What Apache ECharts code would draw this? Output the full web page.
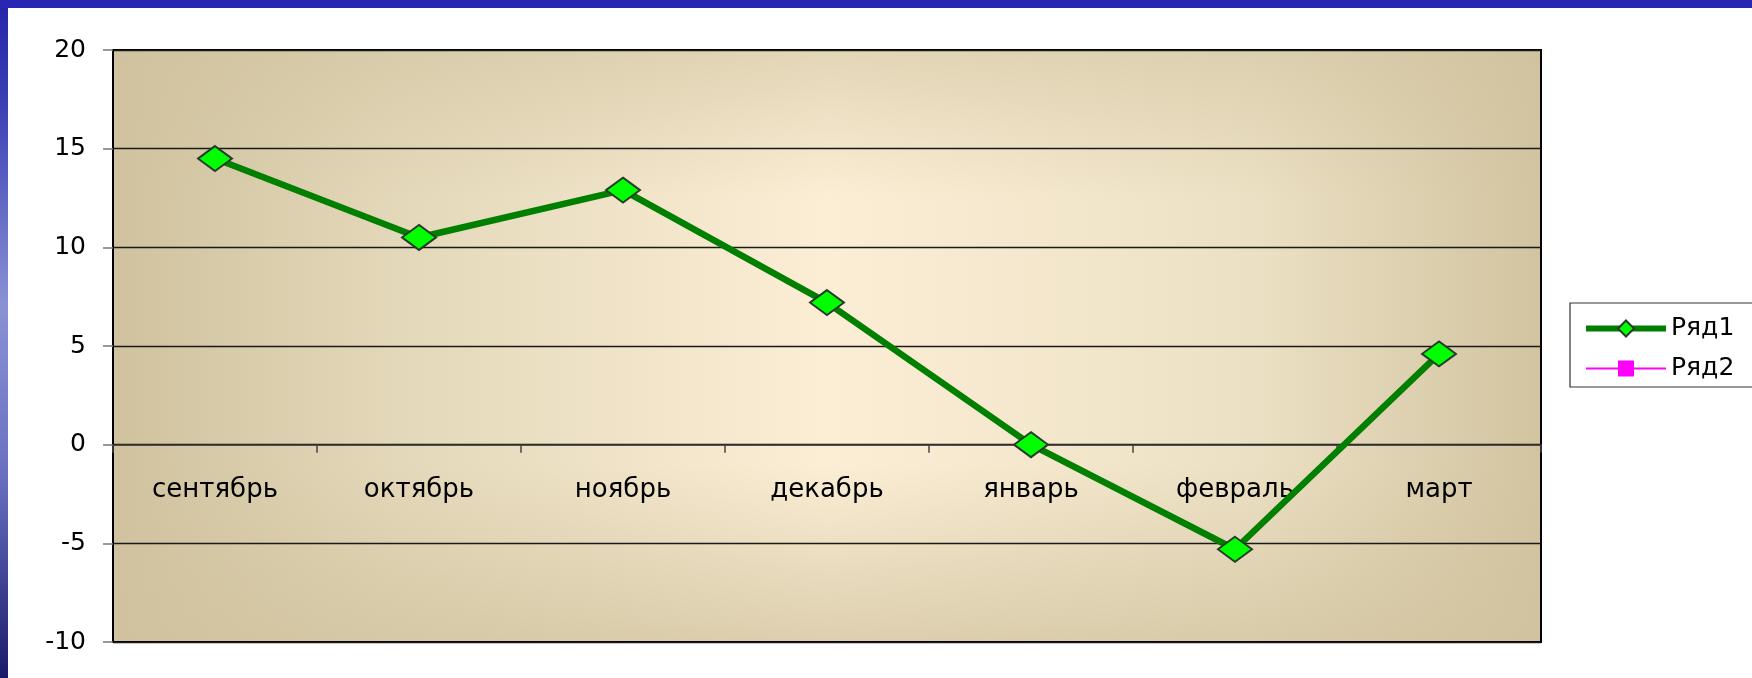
<!DOCTYPE html>
<html>
<head>
<meta charset="utf-8">
<script src="https://cdn.jsdelivr.net/npm/echarts@6/dist/echarts.min.js"></script>
<style>
  html, body { margin: 0; padding: 0; }
  body {
    width: 1752px; height: 678px; overflow: hidden;
    background: linear-gradient(to bottom, #2424aa 0%, #3a3fb4 15%, #8a92d4 45%, #6a70c0 70%, #1a1a6a 100%);
    position: relative;
  }
  #top { position: absolute; left: 0; top: 0; width: 1752px; height: 8px; background: #2727b4; }
  #chart { position: absolute; left: 8px; top: 8px; width: 1744px; height: 670px; background: #ffffff; }
</style>
</head>
<body>
<div id="top"></div>
<div id="chart"></div>
<script>
// ---- data ----
const categories = ['сентябрь', 'октябрь', 'ноябрь', 'декабрь', 'январь', 'февраль', 'март'];
const series1Name = 'Ряд1';
const series1Values = [14.5, 10.5, 12.9, 7.2, 0, -5.3, 4.6];
const series2Name = 'Ряд2';
const series2Values = [];
const yMin = -10, yMax = 20, yStep = 5;

// ---- layout ----
const G = { left: 105, top: 42, width: 1428, height: 592 };
const FONT = 'DejaVu Sans';
// distance from the grid bottom up to the value 0 (x axis sits on zero)
const zeroOffset = -G.height * (0 - yMin) / (yMax - yMin);

const chart = echarts.init(document.getElementById('chart'), null, { renderer: 'canvas' });
chart.setOption({
  animation: false,
  backgroundColor: '#ffffff',
  graphic: [
    {
      type: 'rect', z: -20, silent: true,
      shape: { x: G.left, y: G.top, width: G.width, height: G.height },
      style: {
        fill: new echarts.graphic.LinearGradient(0, 0, 1, 0, [
          { offset: 0, color: '#d0c29e' },
          { offset: 0.2, color: '#e4d8ba' },
          { offset: 0.5, color: '#fbeed5' },
          { offset: 0.8, color: '#ece0c4' },
          { offset: 1, color: '#d2c4a0' }
        ])
      }
    },
    {
      type: 'rect', z: -19, silent: true,
      shape: { x: G.left, y: G.top, width: G.width, height: G.height },
      style: {
        fill: new echarts.graphic.LinearGradient(0, 0, 0, 1, [
          { offset: 0, color: 'rgba(208,194,158,0.55)' },
          { offset: 0.25, color: 'rgba(208,194,158,0)' },
          { offset: 0.7, color: 'rgba(208,194,158,0)' },
          { offset: 1, color: 'rgba(208,194,158,0.7)' }
        ])
      }
    },
    {
      type: 'rect', z: -5, silent: true,
      shape: { x: 1562, y: 295, width: 300, height: 84 },
      style: { fill: '#ffffff', stroke: '#333333', lineWidth: 1.2 }
    }
  ],
  grid: {
    left: G.left, top: G.top, width: G.width, height: G.height,
    outerBoundsMode: 'none', containLabel: false,
    show: true, backgroundColor: 'transparent', borderColor: '#000000', borderWidth: 2
  },
  legend: {
    orient: 'vertical',
    left: 1570, top: 303,
    itemWidth: 80, itemHeight: 20, itemGap: 15,
    textStyle: { fontFamily: FONT, fontSize: 25, color: '#000' },
    data: [
      { name: series1Name, lineStyle: { width: 6, color: '#007f00' } },
      { name: series2Name, lineStyle: { width: 2, color: '#ff00ff' } }
    ]
  },
  xAxis: {
    type: 'category',
    data: categories,
    boundaryGap: true,
    position: 'bottom',
    offset: zeroOffset,
    axisLine: { show: true, onZero: false, lineStyle: { color: '#333333', width: 1.5 } },
    axisTick: { show: true, length: 8, inside: false, lineStyle: { color: '#444444', width: 1.5 } },
    axisLabel: { margin: 33, fontFamily: FONT, fontSize: 26, color: '#000' },
    splitLine: { show: false }
  },
  yAxis: {
    type: 'value',
    min: yMin, max: yMax, interval: yStep,
    axisLine: { show: true, lineStyle: { color: '#000', width: 2 } },
    axisTick: { show: true, length: 10, lineStyle: { color: '#777777', width: 1.5 } },
    axisLabel: { margin: 27, fontFamily: FONT, fontSize: 25, color: '#000' },
    splitLine: { show: true, lineStyle: { color: '#1a1a1a', width: 1.3 } }
  },
  series: [
    {
      name: series1Name,
      type: 'line',
      data: series1Values,
      symbol: 'diamond',
      symbolSize: [34, 25],
      lineStyle: { color: '#007f00', width: 6.5 },
      itemStyle: { color: '#00ff00', borderColor: '#2a3a2a', borderWidth: 2 },
      z: 3
    },
    {
      name: series2Name,
      type: 'line',
      data: series2Values,
      symbol: 'rect',
      symbolSize: 14,
      lineStyle: { color: '#ff00ff', width: 2 },
      itemStyle: { color: '#ff00ff', borderColor: '#ff00ff' }
    }
  ]
});
</script>
</body>
</html>
